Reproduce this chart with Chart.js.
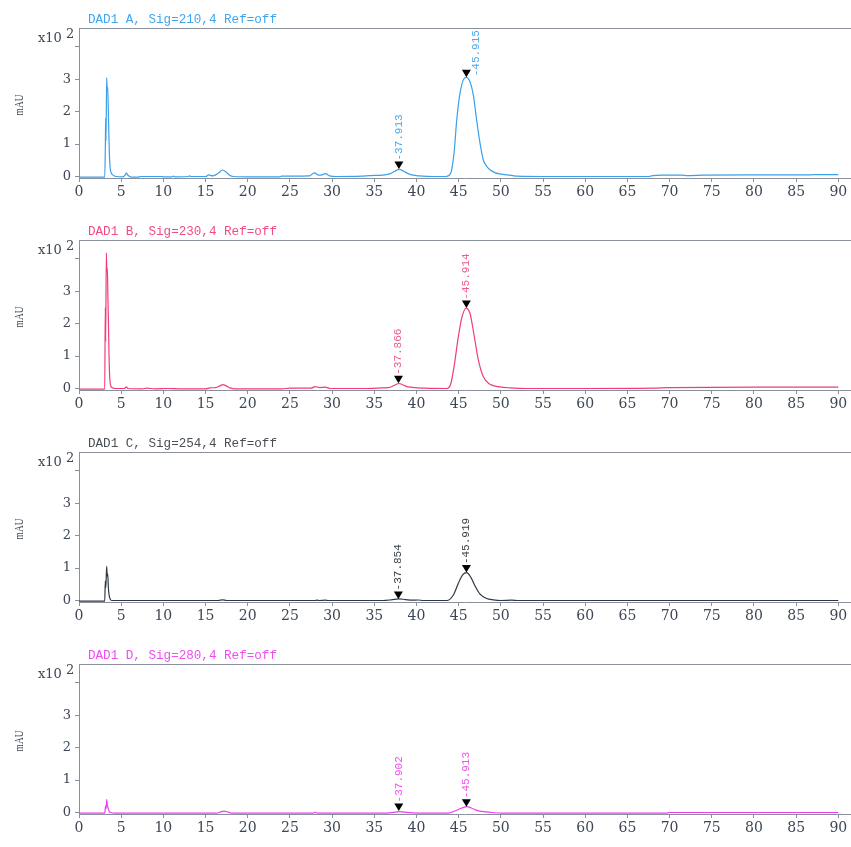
<!DOCTYPE html>
<html>
<head>
<meta charset="utf-8">
<script src="https://cdn.jsdelivr.net/npm/chart.js@4/dist/chart.umd.min.js"></script>
<style>
html,body{margin:0;padding:0;background:#fff;}
#wrap{position:relative;width:851px;height:847px;overflow:hidden;}
canvas{position:absolute;left:0;}
</style>
</head>
<body>
<div id="wrap">
<canvas id="cA" width="851" height="212" style="top:0px"></canvas>
<canvas id="cB" width="851" height="212" style="top:212px"></canvas>
<canvas id="cC" width="851" height="212" style="top:424px"></canvas>
<canvas id="cD" width="851" height="211" style="top:636px"></canvas>
</div>
<script>
// ---- data (time in min, signal in x10^2 mAU) ----
const X_TICKS = [0,5,10,15,20,25,30,35,40,45,50,55,60,65,70,75,80,85,90];
const Y_TICKS = [0,1,2,3,4];
const Y_LABELED = [0,1,2,3];

const TITLES = ["DAD1 A, Sig=210,4 Ref=off","DAD1 B, Sig=230,4 Ref=off","DAD1 C, Sig=254,4 Ref=off","DAD1 D, Sig=280,4 Ref=off"];

const TRACE_A = [[0,-0.02],[1.5,-0.02],[3.05,-0.02],[3.12,0.9],[3.16,1.8],[3.2,1.1],[3.28,3.05],[3.34,2.65],[3.4,2.75],[3.46,2.2],[3.52,1.5],[3.6,0.7],[3.68,0.3],[3.8,0.12],[4.0,0.05],[4.4,0.0],[5.2,-0.01],[5.45,0.04],[5.6,0.11],[5.8,0.04],[6.2,-0.02],[7.0,-0.02],[7.3,0.0],[9.8,0.0],[10.0,-0.01],[11.0,-0.01],[11.2,0.01],[11.4,-0.01],[12.9,0.0],[13.1,0.02],[13.3,0.0],[15.0,0.0],[15.4,0.05],[15.8,0.02],[16.2,0.05],[16.6,0.12],[17.0,0.2],[17.4,0.15],[17.8,0.05],[18.3,0.0],[20,-0.01],[23.8,-0.01],[24.0,0.01],[27.3,0.02],[27.9,0.11],[28.4,0.04],[28.8,0.05],[29.2,0.09],[29.7,0.02],[30.5,0.0],[33.5,0.01],[34.5,0.03],[36.0,0.04],[36.8,0.08],[37.4,0.16],[37.95,0.22],[38.5,0.16],[39.0,0.09],[39.6,0.04],[40.3,0.02],[42,0.0],[43.5,0.0],[44.05,0.1],[44.45,0.72],[44.77,1.74],[45.16,2.57],[45.55,2.98],[45.9,3.06],[46.34,2.92],[46.74,2.51],[47.13,1.74],[47.53,1.03],[47.92,0.51],[48.3,0.32],[48.71,0.21],[49.3,0.12],[49.9,0.08],[51.1,0.04],[52,0.01],[55,0.0],[60,0.0],[67.5,0.0],[68,0.03],[69,0.04],[71.5,0.04],[72,0.03],[74,0.04],[79.5,0.05],[86.8,0.05],[87,0.06],[90,0.06]];

const TRACE_B = [[0,-0.02],[3.05,-0.02],[3.12,2.5],[3.16,1.45],[3.24,4.18],[3.3,3.6],[3.36,3.7],[3.42,2.9],[3.5,1.9],[3.56,1.0],[3.64,0.35],[3.75,0.1],[3.9,0.03],[4.3,0.0],[5.4,0.0],[5.6,0.05],[5.8,0.0],[7.5,-0.01],[8,0.01],[9,-0.01],[10.5,0.0],[12,-0.01],[15,-0.01],[15.5,0.02],[16.2,0.03],[16.7,0.08],[17.05,0.12],[17.4,0.09],[17.9,0.02],[18.5,-0.01],[24,-0.01],[25,0.01],[27.5,0.01],[28,0.06],[28.5,0.03],[29.2,0.04],[29.8,0.0],[34,0.0],[36,0.02],[36.9,0.04],[37.4,0.1],[37.93,0.155],[38.5,0.1],[39,0.05],[39.8,0.03],[41,0.01],[43.6,0.0],[44.05,0.13],[44.45,0.67],[44.96,1.6],[45.36,2.17],[45.87,2.48],[46.34,2.32],[46.82,1.65],[47.33,0.88],[47.92,0.36],[48.71,0.13],[49.9,0.05],[51.1,0.02],[53,0.0],[60,0.0],[68,0.01],[70,0.03],[80,0.04],[90,0.04]];

const TRACE_C = [[0,-0.02],[3.05,-0.02],[3.12,0.6],[3.18,0.4],[3.28,1.05],[3.34,0.75],[3.4,0.82],[3.48,0.4],[3.56,0.18],[3.68,0.05],[3.9,0.0],[16.5,0.0],[17,0.02],[17.5,0.0],[28,0.0],[28.2,0.01],[28.5,0.0],[29.2,0.01],[29.5,0.0],[36,0.0],[37,0.02],[37.9,0.05],[38.7,0.03],[39.5,0.01],[40.2,0.015],[40.8,0.0],[43.6,0.0],[44.37,0.17],[44.96,0.53],[45.47,0.79],[45.95,0.86],[46.43,0.72],[46.94,0.45],[47.53,0.2],[48.32,0.06],[49.1,0.02],[50,0.0],[51.3,0.01],[52,0.0],[90,0.0]];

const TRACE_D = [[0,-0.02],[3.05,-0.02],[3.15,0.2],[3.22,0.12],[3.28,0.4],[3.36,0.22],[3.44,0.15],[3.55,0.05],[3.75,0.0],[4.2,-0.02],[16.3,-0.02],[16.8,0.02],[17.2,0.04],[17.7,0.01],[18.2,-0.02],[27.8,-0.02],[28,0.01],[28.2,-0.02],[36.5,-0.02],[37.2,0.0],[37.9,0.03],[38.6,0.01],[39.5,-0.01],[43.8,-0.02],[44.4,0.03],[45.0,0.1],[45.5,0.15],[45.95,0.18],[46.5,0.14],[47.0,0.08],[47.5,0.04],[48.2,0.02],[49,0.0],[50,-0.02],[69.5,-0.02],[70,0.0],[90,0.0]];

const PEAKS_A = [[37.913,0.23],[45.915,3.06]];
const PEAKS_B = [[37.866,0.16],[45.914,2.48]];
const PEAKS_C = [[37.854,0.05],[45.919,0.86]];
const PEAKS_D = [[37.902,0.05],[45.913,0.18]];

// ---- styles ----
const AXIS_COLOR = '#8a909c';
const TICK_COLOR = '#3c4654';
const PANELS = [
  {id:'cA', trace:TRACE_A, peaks:PEAKS_A, title:TITLES[0], line:'#39a0ea', label:'#4aaaf0', titleColor:'#3ea6f0'},
  {id:'cB', trace:TRACE_B, peaks:PEAKS_B, title:TITLES[1], line:'#f03c78', label:'#f05a8c', titleColor:'#f04c84'},
  {id:'cC', trace:TRACE_C, peaks:PEAKS_C, title:TITLES[2], line:'#2e3842', label:'#3a4048', titleColor:'#4a4f55'},
  {id:'cD', trace:TRACE_D, peaks:PEAKS_D, title:TITLES[3], line:'#f03cf0', label:'#f050f0', titleColor:'#f04cf0'}
];

const chromoPlugin = {
  id:'chromo',
  afterDraw(chart, args, opts){
    const ctx = chart.ctx, a = chart.chartArea, xs = chart.scales.x, ys = chart.scales.y;
    ctx.save();
    ctx.strokeStyle = AXIS_COLOR; ctx.lineWidth = 1;
    ctx.beginPath(); ctx.moveTo(a.left, Math.round(a.top)+0.5); ctx.lineTo(a.right, Math.round(a.top)+0.5); ctx.stroke();
    ctx.font = '12.6px "Liberation Mono"'; ctx.fillStyle = opts.titleColor;
    ctx.textAlign = 'left'; ctx.textBaseline = 'middle';
    ctx.fillText(opts.title, 88, 20);
    ctx.fillStyle = TICK_COLOR;
    ctx.font = '13px "DejaVu Serif"';
    ctx.fillText('x10', 38, 38.5);
    ctx.fillText('2', 66, 35);
    ctx.save();
    ctx.translate(20, 105); ctx.rotate(-Math.PI/2); ctx.scale(0.72, 1);
    ctx.font = '13px "Liberation Serif"'; ctx.textAlign = 'center'; ctx.textBaseline = 'middle';
    ctx.fillText('mAU', 0, 0);
    ctx.restore();
    ctx.save();
    ctx.beginPath(); ctx.rect(a.left, a.top, a.right - a.left, a.bottom - a.top); ctx.clip();
    ctx.font = '11px "Liberation Mono"';
    for (const [t, v] of opts.peaks){
      const px = xs.getPixelForValue(t), py = ys.getPixelForValue(v);
      ctx.fillStyle = '#000';
      ctx.beginPath(); ctx.moveTo(px - 4.5, py - 7.5); ctx.lineTo(px + 4.5, py - 7.5); ctx.lineTo(px, py); ctx.closePath(); ctx.fill();
      const txt = '-' + t.toFixed(3);
      const w = ctx.measureText(txt).width;
      // a label that would run past the frame is set beside the marker
      const beside = (py - 8.5 - w < a.top);
      ctx.save();
      ctx.translate(px + (beside ? 10 : 0), beside ? py - 1 : py - 8.5); ctx.rotate(-Math.PI/2);
      ctx.fillStyle = opts.labelColor;
      ctx.textAlign = 'left'; ctx.textBaseline = 'middle';
      ctx.fillText(txt, 0, 0);
      ctx.restore();
    }
    ctx.restore();
    ctx.restore();
  }
};

for (const p of PANELS){
  new Chart(document.getElementById(p.id), {
    type:'line',
    data:{datasets:[{
      data:p.trace.map(([x,y]) => ({x, y})),
      borderColor:p.line, borderWidth:1.2, pointRadius:0, fill:false,
      cubicInterpolationMode:'monotone'
    }]},
    options:{
      responsive:false, animation:false, devicePixelRatio:1,
      layout:{padding:{top:28, left:0, right:0, bottom:0}},
      plugins:{legend:{display:false}, tooltip:{enabled:false}, title:{display:false},
        chromo:{title:p.title, titleColor:p.titleColor, labelColor:p.label, peaks:p.peaks}},
      scales:{
        x:{type:'linear', min:0, max:91.5,
          afterBuildTicks:s => { s.ticks = X_TICKS.map(v => ({value:v})); },
          afterFit:s => { s.height = s.chart.height - 178; },
          grid:{drawOnChartArea:false, drawTicks:true, tickLength:4, color:AXIS_COLOR},
          border:{color:AXIS_COLOR, width:1},
          ticks:{font:{family:'DejaVu Serif', size:14}, color:TICK_COLOR, padding:2, maxRotation:0, autoSkip:false}
        },
        y:{type:'linear', min:-0.046, max:4.58,
          afterBuildTicks:s => { s.ticks = Y_TICKS.map(v => ({value:v})); },
          afterFit:s => { s.width = 79; },
          grid:{drawOnChartArea:false, drawTicks:true, tickLength:4, color:AXIS_COLOR},
          border:{color:AXIS_COLOR, width:1},
          ticks:{font:{family:'DejaVu Serif', size:13}, color:TICK_COLOR, padding:4,
            callback:v => Y_LABELED.includes(v) ? String(v) : ''}
        }
      }
    },
    plugins:[chromoPlugin]
  });
}
</script>
</body>
</html>
